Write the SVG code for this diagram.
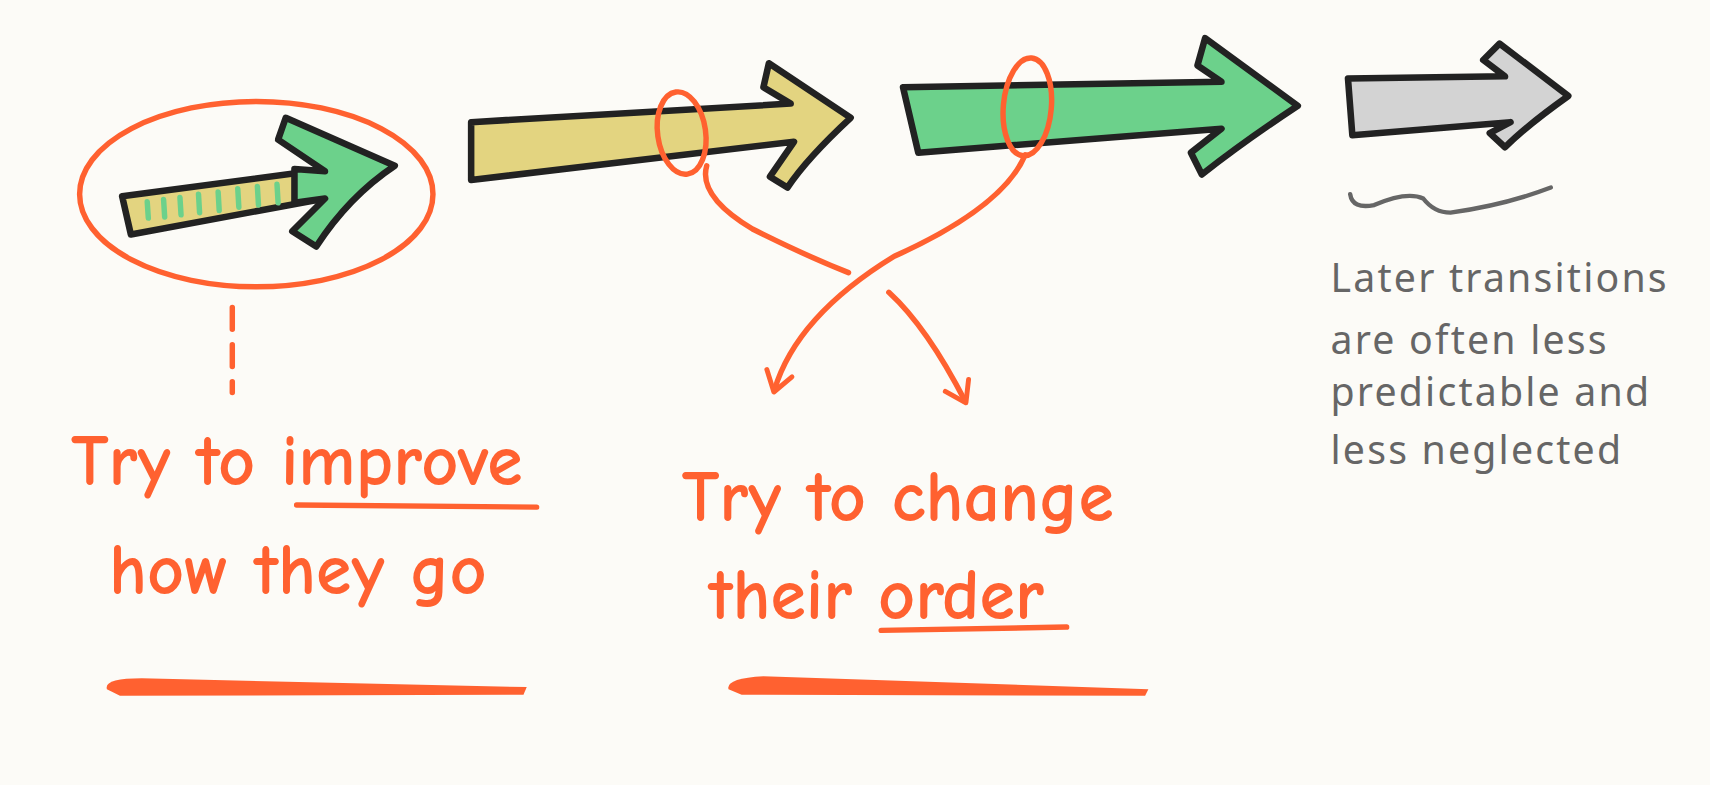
<svg xmlns="http://www.w3.org/2000/svg" width="1710" height="785" viewBox="0 0 1710 785">
<style>
.ol{stroke:#222;stroke-width:6;stroke-linejoin:round;stroke-linecap:round}
.or{fill:none;stroke:#ff6130;stroke-width:5;stroke-linecap:round}
.ot{fill:#ff6130;font-family:"Comic Neue","Noto Sans",sans-serif;font-size:66px;font-weight:bold}
.gt{fill:#666;font-family:"Noto Sans",sans-serif;font-size:36px;letter-spacing:2px}
</style>
<defs>
<marker id="ah" viewBox="0 0 20 20" refX="14" refY="10" markerWidth="30" markerHeight="30" orient="auto" markerUnits="userSpaceOnUse">
<path d="M3,2 L15,10 L3,18" fill="none" stroke="#ff6130" stroke-width="3" stroke-linecap="round" stroke-linejoin="round"/>
</marker>
</defs>
<rect width="1710" height="785" fill="#fcfbf7"/>
<g transform="scale(1.0906)">
<g id="small-arrow">
<path class="ol" fill="#e3d480" d="M112,180 L300,155 L298,182 L120,215 Z"/>
<g stroke="#6cd18b" stroke-width="5" stroke-linecap="round">
<line x1="135" y1="185" x2="136" y2="200"/><line x1="150" y1="183" x2="151" y2="199"/><line x1="165" y1="181" x2="166" y2="197"/><line x1="182" y1="178" x2="183" y2="195"/><line x1="200" y1="176" x2="201" y2="193"/><line x1="218" y1="173" x2="219" y2="190"/><line x1="236" y1="171" x2="237" y2="188"/><line x1="254" y1="169" x2="255" y2="186"/>
</g>
<path class="ol" fill="#6cd18b" d="M255,128 L262,108 L362,152 Q320,180 290,226 L268,212 L298,182 L270,186 L270,155 L298,157 Z"/>
<ellipse class="or" cx="235" cy="178" rx="162" ry="85" stroke-width="6"/>
</g>
<g id="yellow-arrow">
<path class="ol" fill="#e3d480" d="M432,112 L725,95 L700,80 L705,58 L780,108 Q740,145 722,172 L706,162 L728,130 L432,165 Z"/>
</g>
<g id="green-arrow">
<path class="ol" fill="#6cd18b" d="M828,80 L1120,75 L1098,60 L1105,35 L1190,97 Q1140,130 1102,160 L1092,140 L1120,118 L842,140 Z"/>
</g>
<g id="gray-arrow">
<path class="ol" fill="#d3d3d3" d="M1236,72 L1380,70 L1360,55 L1375,40 L1438,88 Q1400,115 1380,135 L1366,122 L1385,112 L1240,124 Z"/>
<path d="M1238,178 Q1240,192 1260,188 Q1290,175 1305,182 Q1315,195 1330,195 Q1380,188 1422,172" fill="none" stroke="#666" stroke-width="4" stroke-linecap="round"/>
</g>
<g id="connectors">
<ellipse class="or" cx="625" cy="122" rx="22" ry="38" transform="rotate(-8 625 122)"/>
<ellipse class="or" cx="942" cy="98" rx="22" ry="45" transform="rotate(5 942 98)"/>
<path class="or" d="M648,152 Q640,180 690,210 Q740,235 778,250"/>
<path class="or" d="M815,268 Q850,300 885,368" marker-end="url(#ah)"/>
<path class="or" d="M940,142 Q920,190 820,235 Q730,290 710,358" marker-end="url(#ah)"/>
<path class="or" d="M213,282 L213,360" stroke-width="6" stroke-dasharray="20 14"/>
</g>
<g id="label-left">
<text class="ot" x="65" y="445">Try to improve</text>
<text class="ot" x="100" y="545">how they go</text>
<path class="or" d="M272,463 L492,465" stroke-width="4"/>
<path d="M98,632 Q95,622 130,622 L483,630 L480,637 L110,638 Z" fill="#ff6130"/>
</g>
<g id="label-middle">
<text class="ot" x="625" y="478">Try to change</text>
<text class="ot" x="650" y="568">their order</text>
<path class="or" d="M808,578 L978,575" stroke-width="4"/>
<path d="M668,632 Q665,622 700,620 L1053,632 L1050,638 L680,637 Z" fill="#ff6130"/>
</g>
<g id="label-right">
<text class="gt" x="1220" y="268">Later transitions</text>
<text class="gt" x="1220" y="325">are often less</text>
<text class="gt" x="1220" y="372">predictable and</text>
<text class="gt" x="1220" y="425">less neglected</text>
</g>
</g>
</svg>
